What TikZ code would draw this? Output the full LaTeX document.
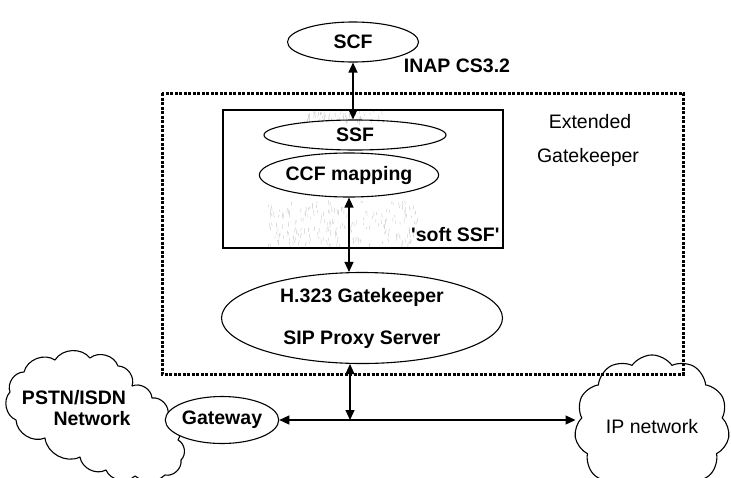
\documentclass[tikz,border=0pt]{standalone}
\usepackage{fontspec}
\setmainfont{Liberation Sans}
\usetikzlibrary{shapes.geometric,shapes.symbols,arrows.meta}
\begin{document}
\begin{tikzpicture}[x=1pt,y=1pt,
  every node/.style={font=\fontsize{19.5}{22}\selectfont},
  el/.style={draw,ellipse,line width=1.1pt,inner sep=0pt,font=\fontsize{19.5}{22}\selectfont\bfseries},
  lbl/.style={font=\fontsize{19.5}{22}\selectfont\bfseries},
  conn/.style={line width=1.2pt,{Triangle[length=10pt,width=9pt]}-{Triangle[length=10pt,width=9pt]}},
  dotbox/.style={line width=3pt,dash pattern=on 3pt off 1.5pt},
  cloudline/.style={line width=1.1pt,line join=round},
  hatch/.style={gray!45,line width=0.4pt}]
\useasboundingbox (0,0) rectangle (731,-477);

% grey shading inside the soft SSF box
\pgfmathsetseed{11}
\foreach \i in {1,...,70}{
  \pgfmathsetmacro\xx{305+80*rnd}
  \pgfmathsetmacro\yy{-110-11*rnd}
  \pgfmathsetmacro\dx{2*rnd-1}
  \draw[hatch] (\xx,\yy) -- ++(\dx,-2-3*rnd);
}
\foreach \i in {1,...,200}{
  \pgfmathsetmacro\xx{268+150*rnd}
  \pgfmathsetmacro\yy{-200-44*rnd}
  \pgfmathsetmacro\dx{2*rnd-1}
  \draw[hatch] (\xx,\yy) -- ++(\dx,-2-4*rnd);
}

% extended gatekeeper dotted box
\draw[dotbox] (162,-93) rectangle (683,-374);

% soft SSF box
\node[draw,line width=1.2pt,minimum width=280,minimum height=138,inner sep=0pt] (ssfbox) at (363,-179) {};

\node[el,minimum width=131,minimum height=40] (scf) at (353,-42) {SCF};
\node[el,minimum width=182,minimum height=30] (ssf) at (355,-135) {SSF};
\node[el,minimum width=172,minimum height=44] (ccf) at (349,-175) {CCF mapping};
\node[lbl,anchor=east] (soft) at (503,-235) {\textquotesingle soft SSF\textquotesingle};
\node[lbl] (inap) at (457,-66) {INAP CS3.2};
\node (ext) at (590,-122) {Extended};
\node (gk) at (588,-157) {Gatekeeper};
\node[el,minimum width=281,minimum height=91,align=center,font=\fontsize{19.5}{42}\selectfont\bfseries] (h323) at (362,-318) {H.323 Gatekeeper\\SIP Proxy Server};

% PSTN/ISDN cloud
\draw[cloudline] (10,-392) to[bend left=55] (24,-372) to[bend left=55] (55,-360)
  to[bend left=55] (90,-358) to[bend left=55] (118,-366) to[bend left=55] (132,-386)
  to[bend left=55] (152,-398) to[bend left=55] (168,-415) to[bend left=55] (178,-440)
  to[bend left=55] (181,-460) to[bend left=55] (165,-475) to[bend left=40] (135,-476)
  to[bend left=55] (106,-470) to[bend left=55] (80,-457) to[bend left=55] (45,-438)
  to[bend left=55] (16,-420) to[bend left=55] cycle;
\node[lbl] (pstn) at (74,-398) {PSTN/ISDN};
\node[lbl] (net) at (92,-419) {Network};

\node[el,minimum width=112,minimum height=47,fill=white] (gw) at (222,-420) {Gateway};
\node[cloud,draw,cloud puffs=11,cloud puff arc=110,minimum width=155,minimum height=87,line width=1.1pt,inner sep=0pt] (ip) at (652,-427) {IP network};

\coordinate (jn) at (350,-420);

\draw[conn] (scf.south) -- (scf.south |- ssf.north);
\draw[conn] (ccf.south) -- (ccf.south |- h323.north);
\draw[conn] (jn |- h323.south) -- (jn);
\draw[conn] (gw.east) -- (gw.east -| ip.west);
\end{tikzpicture}
\end{document}
